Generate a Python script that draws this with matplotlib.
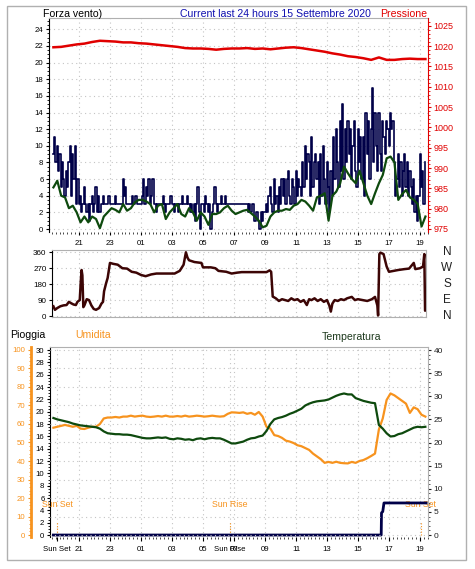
import numpy as np
import matplotlib
matplotlib.use('Agg')
import matplotlib.pyplot as plt
import matplotlib.transforms as mtrans
from matplotlib.ticker import MultipleLocator
from matplotlib.patches import Rectangle

plt.rcParams['font.family'] = ['Liberation Sans', 'DejaVu Sans']

W, H = 475, 569

# ---------------- data ----------------
start_hour = 19.35   # 19:21 of day 1; hours > 24 belong to the next day

# wind speed (5-min samples, one row per hour)
wind_speed = [9, 11, 8, 10, 7, 9, 5, 8, 6, 4, 7, 5,
              8, 10, 4, 9, 6, 10, 3, 6, 3, 4, 2, 3,
              5, 3, 2, 3, 1, 3, 4, 2, 3, 5, 2, 4,
              2, 3, 3, 4, 3, 3, 3, 4, 3, 3, 3, 3,
              4, 3, 3, 3, 3, 3, 6, 4, 5, 3, 3, 3,
              3, 4, 3, 3, 4, 3, 3, 3, 3, 4, 6, 3,
              5, 4, 6, 3, 4, 6, 3, 3, 2, 3, 3, 3,
              3, 4, 3, 2, 3, 3, 3, 4, 3, 3, 2, 3,
              3, 2, 3, 3, 4, 3, 3, 3, 4, 3, 2, 3,
              2, 3, 1, 3, 5, 2, 0, 3, 3, 2, 4, 3,
              2, 3, 0, 2, 3, 5, 3, 2, 3, 3, 4, 3,
              3, 4, 3, 3, 3, 3, 3, 3, 3, 3, 3, 3,
              3, 3, 3, 3, 3, 3, 3, 2, 3, 2, 3, 3,
              1, 2, 2, 1, 0, 2, 1, 2, 2, 3, 2, 4,
              5, 3, 2, 6, 3, 4, 2, 5, 3, 6, 4, 6,
              3, 6, 7, 4, 3, 6, 5, 3, 7, 4, 6, 5,
              4, 8, 5, 10, 6, 9, 8, 4, 11, 5, 8, 9,
              6, 8, 3, 9, 4, 10, 6, 3, 8, 5, 2, 7,
              4, 11, 6, 12, 8, 5, 13, 7, 15, 6, 12, 8,
              13, 9, 12, 6, 10, 13, 7, 5, 12, 8, 11, 6,
              11, 4, 14, 9, 13, 6, 12, 17, 8, 14, 10, 7,
              14, 9, 7, 13, 11, 9, 13, 12, 10, 14, 12, 13,
              8, 4, 6, 9, 5, 8, 4, 7, 9, 5, 8, 4,
              7, 5, 3, 6, 2, 4, 1, 4, 9, 5, 7, 3,
              8]

# average wind (15-min samples)
wind_avg = [5, 5.8, 4, 3.8,
            2.5, 2.8, 2, 0.8,
            1.5, 0.8, 1.5, 1.2,
            0.1, 1.5, 2, 2.5,
            2.3, 2, 3, 2.2,
            2.5, 3.2, 3.5, 3.5,
            3.3, 3, 2, 2.8,
            3, 1.2, 2, 2.5,
            3, 1.8, 1.5, 2.5,
            2, 1, 2, 1.5,
            0.5, 1.8, 1.8, 2,
            2.5, 2.8, 2.2, 1.8,
            2, 2.2, 2.3, 1.9,
            1.5, 1.0, 0.2, 0.4,
            1.5, 2, 2.2, 2.2,
            2.4, 2.3, 2.8, 3.0,
            3.5, 3.3, 2.8, 2.2,
            3.8, 4.0, 4.3, 1.0,
            4.0, 4.5, 5.5, 7.5,
            6.7, 6.0, 5.5, 7.0,
            5.5, 4.0, 3.0, 4.3,
            5.5, 6.5, 8.5, 8.7,
            8.0, 3.5, 4.2, 4.7,
            3.8, 3.5, 3.0, 0.3,
            1.5]

# pressure (30-min samples)
pressure = [1019.7, 1019.8, 1020.1, 1020.4, 1020.6, 1021.0, 1021.3, 1021.2,
            1021.1, 1020.9, 1020.9, 1020.7, 1020.6, 1020.4, 1020.2, 1020.0,
            1019.8, 1019.5, 1019.4, 1019.4, 1019.3, 1019.1, 1019.3, 1019.4,
            1019.4, 1019.5, 1019.3, 1019.4, 1019.2, 1019.4, 1019.6, 1019.7,
            1019.5, 1019.2, 1018.9, 1018.6, 1018.2, 1017.9, 1017.5, 1017.3,
            1017.0, 1016.6, 1017.2, 1016.6, 1016.6, 1016.8, 1016.9, 1016.8,
            1016.8]

# wind direction
dir_hours = [19.35, 19.45, 19.6, 19.8, 20.0, 20.2, 20.35, 20.5, 20.65, 20.8,
             20.9, 21.05, 21.12, 21.17, 21.22, 21.28, 21.35, 21.5, 21.65, 21.8,
             21.95, 22.1, 22.3, 22.45, 22.55, 22.62, 22.75, 22.85, 23.0, 23.2,
             23.5, 23.8, 24.1, 24.4, 24.7, 25.0, 25.3, 25.66, 26.0, 26.5,
             27.17, 27.5, 27.75, 27.9, 28.0, 28.1, 28.45, 28.9, 29.0, 29.5,
             29.8, 30.0, 30.5, 30.85, 31.2, 31.5, 32.5, 33.1, 33.3, 33.4,
             33.5, 33.7, 33.9, 34.1, 34.3, 34.5, 34.7, 34.9, 35.1, 35.3,
             35.5, 35.7, 35.85, 36.0, 36.2, 36.4, 36.6, 36.8, 37.0, 37.15,
             37.25, 37.35, 37.5, 37.7, 37.9, 38.1, 38.3, 38.6, 38.8, 39.0,
             39.3, 39.6, 39.9, 40.1, 40.25, 40.3, 40.38, 40.45, 40.65, 40.85,
             41.0, 41.3, 41.6, 42.0, 42.3, 42.6, 42.7, 43.0, 43.2, 43.28,
             43.33, 43.4]
dir_deg = [55, 35, 45, 55, 60, 62, 80, 72, 65, 62,
           80, 90, 200, 260, 230, 50, 60, 95, 90, 60,
           40, 35, 45, 70, 80, 140, 185, 215, 300, 295,
           290, 270, 268, 250, 245, 232, 225, 235, 240, 240,
           240, 255, 290, 360, 330, 315, 305, 300, 275, 275,
           270, 255, 250, 240, 245, 248, 248, 248, 258, 250,
           110, 100, 85, 95, 90, 85, 100, 90, 95, 80,
           90, 62, 95, 90, 100, 85, 95, 80, 90, 60,
           25, 70, 90, 85, 95, 90, 100, 108, 90, 95,
           90, 85, 95, 108, 60, 3, 350, 358, 350, 280,
           250, 255, 260, 265, 268, 300, 265, 270, 280, 350,
           30, 35]

# humidity (15-min samples)
humidity = [58, 58.5, 59, 59.5,
            59, 58.5, 59, 57.5,
            57.3, 58, 58.5, 58.5,
            60, 63, 63.5, 63.5,
            63.8, 63.5, 64, 64,
            64.5, 64, 64.3, 64.5,
            64, 63.8, 64, 64.3,
            64, 64.5, 64, 64,
            64.3, 64, 64.5, 64,
            64.2, 64.5, 64.3, 64,
            64.2, 64.5, 64.2, 64,
            64.2, 65.5, 66.3, 66.2,
            66, 66.3, 65.5, 66,
            65, 66.5, 64, 58.5,
            57.5, 54, 53.5, 52.5,
            51, 50.5, 49.7, 48.5,
            48, 47, 46, 44,
            42.5, 41, 39, 39.5,
            39, 39.6, 39, 38.8,
            38.7, 39.5, 39, 40,
            40.5, 41.5, 42.7, 44,
            57, 63, 73, 76.5,
            75.5, 74, 72.5, 71,
            66, 69, 68, 65,
            64]

# temperature (15-min samples)
temperature = [25.3, 25.0, 24.8, 24.6,
               24.4, 24.1, 23.9, 23.7,
               23.6, 23.5, 23.4, 23.3,
               23.0, 22.4, 22.0, 21.9,
               21.8, 21.8, 21.7, 21.7,
               21.6, 21.4, 21.2, 21.0,
               20.9, 20.9, 21.0, 21.1,
               21.0, 21.1, 20.8, 20.7,
               20.9, 20.8, 20.6, 20.7,
               20.5, 20.8, 20.9, 20.7,
               20.9, 21.0, 20.9, 20.9,
               20.6, 20.2, 19.8, 19.8,
               20.0, 20.2, 20.6, 20.9,
               21.0, 21.3, 21.5, 22.5,
               24.0, 25.0, 25.3, 25.5,
               25.8, 26.2, 26.5, 26.9,
               27.3, 28.0, 28.4, 28.7,
               28.9, 29.0, 29.1, 29.3,
               29.7, 30.1, 30.4, 30.6,
               30.4, 30.4, 29.6, 29.3,
               29.0, 28.8, 28.6, 28.5,
               23.8, 23.0, 22.0, 21.3,
               21.4, 21.8, 22.0, 22.4,
               22.8, 23.2, 23.4, 23.3,
               23.4]

# rain
rain_hours = [19.35, 40.5, 40.52, 40.6, 40.68, 43.4]
rain_mm = [0, 0, 3.6, 3.8, 5.2, 5.2]

hour_ticks = [21, 23, 25, 27, 29, 31, 33, 35, 37, 39, 41, 43]
hour_labels = ['21', '23', '01', '03', '05', '07', '09', '11', '13', '15', '17', '19']
sun_set_1, sun_rise, sun_set_2 = 19.58, 30.74, 43.05

wind_ticks = list(range(0, 25, 2))
press_ticks = list(range(975, 1026, 5))
dir_ticks = [0, 90, 180, 270, 360]
dir_letters = ['N', 'E', 'S', 'W', 'N']
rain_ticks = list(range(0, 31, 2))
hum_ticks = list(range(0, 101, 10))
temp_ticks = list(range(0, 41, 5))

# ---------------- colours ----------------
NAVY = '#000048'
GREEN = '#0e4a0e'
RED = '#e00000'
ORANGE = '#f7931e'
MAROON = '#3c0505'
GRID = '#c4c4c4'
FRAME = '#b0b0b0'
dotted = (0, (1, 3))

t_speed = start_hour + np.arange(len(wind_speed)) / 12.0
t_avg = start_hour + np.arange(len(wind_avg)) / 4.0
t_press = start_hour + np.arange(len(pressure)) / 2.0
t_hum = start_hour + np.arange(len(humidity)) / 4.0
t_temp = start_hour + np.arange(len(temperature)) / 4.0

fig = plt.figure(figsize=(W / 100, H / 100), dpi=100)
fig.patch.set_facecolor('white')


def rect(l, t, r, b):
    return [l / W, 1 - b / H, (r - l) / W, (b - t) / H]


# ---------------- panel 1: wind & pressure ----------------
ax1 = fig.add_axes(rect(49, 18, 428, 232))
ax1.plot(t_speed, wind_speed, color=NAVY, lw=1.2, drawstyle='steps-mid', zorder=3)
ax1.plot(t_avg, wind_avg, color=GREEN, lw=1.6, zorder=4)
ax1.set_xlim(19.065, 43.516)
ax1.set_ylim(-0.36, 25.36)
ax1.set_yticks(wind_ticks)
ax1.yaxis.set_minor_locator(MultipleLocator(0.5))
ax1.set_xticks(hour_ticks)
ax1.set_xticklabels(hour_labels)
ax1.xaxis.set_minor_locator(MultipleLocator(0.25))
ax1.tick_params(axis='y', labelsize=5.6, length=2.5, width=0.8, pad=1.5, direction='out')
ax1.tick_params(axis='y', which='minor', length=1.3, width=0.6)
ax1.tick_params(axis='x', labelsize=5.6, length=2.5, width=0.8, pad=3)
ax1.tick_params(axis='x', which='minor', length=1.2, width=0.5)
ax1.grid(True, which='major', color=GRID, linestyle=dotted, linewidth=0.8)
ax1.set_axisbelow(True)
ax1.spines['top'].set_color(FRAME)
ax1.spines['bottom'].set_visible(False)
ax1.spines['right'].set_visible(False)
ax1.spines['left'].set_linewidth(0.8)

ax1r = ax1.twinx()
ax1r.plot(t_press, pressure, color=RED, lw=1.8, zorder=5)
ax1r.set_ylim(974.26, 1026.9)
ax1r.set_yticks(press_ticks)
ax1r.yaxis.set_minor_locator(MultipleLocator(1))
ax1r.tick_params(axis='y', labelsize=6.5, colors=RED, length=2.5, width=0.8, pad=1.5)
ax1r.tick_params(axis='y', which='minor', length=1.3, width=0.6, colors=RED)
ax1r.spines['right'].set_color(RED)
ax1r.spines['top'].set_visible(False)
ax1r.spines['bottom'].set_visible(False)
ax1r.spines['left'].set_visible(False)

fig.text(43 / W, 1 - 14 / H, 'Forza vento)', fontsize=7.6, ha='left', va='center', color='black')
fig.text(180 / W, 1 - 14 / H, 'Current last 24 hours 15 Settembre 2020', fontsize=7.6,
         ha='left', va='center', color='#1010b0')
fig.text(380 / W, 1 - 14 / H, 'Pressione', fontsize=7.6, ha='left', va='center', color=RED)

# ---------------- panel 2: wind direction ----------------
ax2 = fig.add_axes(rect(52, 250, 426, 317))
ax2.plot(dir_hours, dir_deg, color=MAROON, lw=1.8, zorder=3)
ax2.set_xlim(19.26, 43.39)
ax2.set_ylim(-5.6, 373)
ax2.set_yticks(dir_ticks)
ax2.set_xticks(hour_ticks)
ax2.tick_params(axis='x', length=0, labelbottom=False)
ax2.tick_params(axis='y', labelsize=5.8, length=2.5, width=0.8, pad=1.5)
ax2.grid(True, color=GRID, linestyle=dotted, linewidth=0.8)
ax2.set_axisbelow(True)
for s in ['top', 'right', 'bottom']:
    ax2.spines[s].set_color(FRAME)
ax2.spines['left'].set_linewidth(0.8)
letter_tr = mtrans.blended_transform_factory(fig.transFigure, ax2.transData)
for deg, letter in zip(dir_ticks, dir_letters):
    ax2.text(447 / W, deg, letter, transform=letter_tr, fontsize=8.5,
             ha='center', va='center', color='#202020', clip_on=False)

# ---------------- panel 3: rain, humidity, temperature ----------------
ax3 = fig.add_axes(rect(50, 347, 428, 537))
ax3.plot(rain_hours, rain_mm, color=NAVY, lw=2.0, zorder=4, clip_on=False)
ax3.set_xlim(19.13, 43.52)
ax3.set_ylim(-0.32, 30.49)
ax3.set_yticks(rain_ticks)
ax3.yaxis.set_minor_locator(MultipleLocator(0.5))
ax3.tick_params(axis='y', labelsize=5.6, length=2.5, width=0.8, pad=1.5)
ax3.tick_params(axis='y', which='minor', length=1.3, width=0.6)
xt = hour_ticks + [sun_set_1, sun_rise]
xl = hour_labels + ['Sun Set', 'Sun Rise']
ax3.set_xticks(xt)
ax3.set_xticklabels(xl)
ax3.xaxis.set_minor_locator(MultipleLocator(0.25))
ax3.tick_params(axis='x', labelsize=5.6, length=3, width=0.8, pad=3.5)
ax3.tick_params(axis='x', which='minor', length=1.5, width=0.5)
ax3.grid(True, axis='x', color=GRID, linestyle=dotted, linewidth=0.8)
ax3.set_axisbelow(True)
ax3.spines['top'].set_color(FRAME)
ax3.spines['bottom'].set_visible(False)
ax3.spines['right'].set_visible(False)
ax3.spines['left'].set_linewidth(0.8)

for xs in [sun_set_1, sun_rise, sun_set_2]:
    ax3.plot([xs, xs], [0, 2.1], color=ORANGE, lw=0.8, linestyle=(0, (1, 1.5)), zorder=2)
for xs, lab in [(sun_set_1, 'Sun Set'), (sun_rise, 'Sun Rise'), (sun_set_2, 'Sun Set')]:
    ax3.text(xs, 4.9, lab, color=ORANGE, fontsize=6.3, ha='center', va='center', clip_on=False)

# humidity axis (orange, left, outward)
ax3h = ax3.twinx()
ax3h.plot(t_hum, humidity, color=ORANGE, lw=1.6, zorder=3)
ax3h.set_ylim(-1.08, 101.62)
ax3h.yaxis.set_ticks_position('left')
ax3h.yaxis.set_label_position('left')
ax3h.spines['left'].set_position(('outward', 19 * 0.72))
ax3h.spines['left'].set_visible(True)
ax3h.spines['left'].set_color(ORANGE)
ax3h.spines['left'].set_linewidth(2.0)
ax3h.spines['right'].set_visible(False)
ax3h.spines['top'].set_visible(False)
ax3h.spines['bottom'].set_visible(False)
ax3h.set_yticks(hum_ticks)
ax3h.yaxis.set_minor_locator(MultipleLocator(2))
ax3h.tick_params(axis='y', labelsize=5.6, colors=ORANGE, length=2.5, width=0.8, pad=1.5)
ax3h.tick_params(axis='y', which='minor', length=1.3, width=0.6, colors=ORANGE)
ax3h.grid(True, axis='y', color=GRID, linestyle=dotted, linewidth=0.8)
ax3h.set_axisbelow(True)

# temperature axis (right)
ax3t = ax3.twinx()
ax3t.plot(t_temp, temperature, color=GREEN, lw=1.6, zorder=3)
ax3t.set_ylim(-0.43, 40.65)
ax3t.set_yticks(temp_ticks)
ax3t.yaxis.set_minor_locator(MultipleLocator(1))
ax3t.tick_params(axis='y', labelsize=6.0, colors='#202020', length=2.5, width=0.8, pad=1.5)
ax3t.tick_params(axis='y', which='minor', length=1.3, width=0.6, colors='#404040')
ax3t.spines['right'].set_color(FRAME)
for s in ['top', 'bottom', 'left']:
    ax3t.spines[s].set_visible(False)

fig.text(10 / W, 1 - 335 / H, 'Pioggia', fontsize=7.6, ha='left', va='center', color='black')
fig.text(75 / W, 1 - 335 / H, 'Umidita', fontsize=7.6, ha='left', va='center', color=ORANGE)
fig.text(322 / W, 1 - 337 / H, 'Temperatura', fontsize=7.6, ha='left', va='center', color='#1e3a1e')

# outer frame
fig.patches.append(Rectangle((7 / W, 1 - 560 / H), (466 - 7) / W, (560 - 6) / H,
                             transform=fig.transFigure, fill=False, edgecolor=FRAME, lw=1.0))

fig.savefig('out.png', dpi=100, facecolor='white')
